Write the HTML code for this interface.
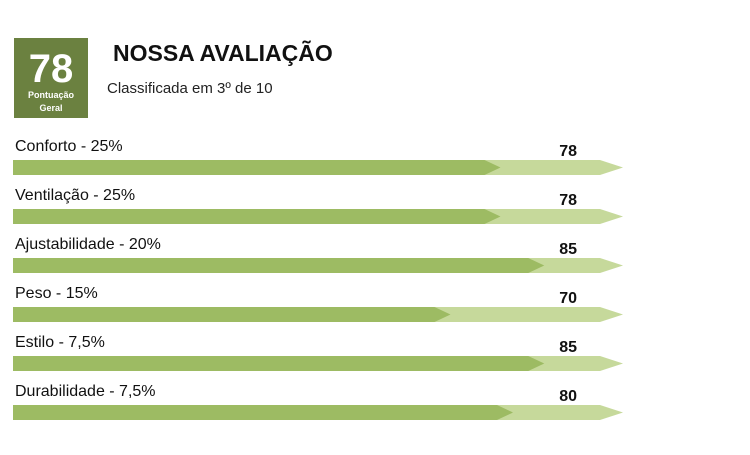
<!DOCTYPE html>
<html><head><meta charset="utf-8"><style>
body{margin:0;width:750px;height:450px;background:#fff;font-family:"Liberation Sans",sans-serif;overflow:hidden}
</style></head><body>
<svg width="750" height="450">
<rect x="14" y="38" width="74" height="80" fill="#6b8140"/>
<text x="51" y="82" text-anchor="middle" font-size="40" fill="#fff" font-weight="bold">78</text>
<text x="51" y="98" text-anchor="middle" font-size="9" fill="#fff" font-weight="bold">Pontuação</text>
<text x="51" y="111" text-anchor="middle" font-size="9" fill="#fff" font-weight="bold">Geral</text>
<text x="113" y="61" font-size="23" font-weight="bold" fill="#111">NOSSA AVALIAÇÃO</text>
<text x="107" y="93" font-size="15" fill="#222">Classificada em 3º de 10</text>
<g id="rows"></g>
</svg>
<script>
const categories=["Conforto - 25%","Ventilação - 25%","Ajustabilidade - 20%","Peso - 15%","Estilo - 7,5%","Durabilidade - 7,5%"];
const scores=[78,78,85,70,85,80];
const x0=13,k=6.25,fullEnd=600,tip=23,h=15;
const g=document.getElementById('rows');
const ns='http://www.w3.org/2000/svg';
function mk(t,a){const e=document.createElementNS(ns,t);for(const n in a)e.setAttribute(n,a[n]);g.appendChild(e);return e;}
categories.forEach((c,i)=>{
 const y=160+i*49;
 const l=mk('polygon',{points:`${x0},${y} ${fullEnd},${y} ${fullEnd+tip},${y+h/2} ${fullEnd},${y+h} ${x0},${y+h}`,fill:'#c6d99b'});
 
 
 const xe=x0+scores[i]*k;
 const d=mk('polygon',{points:`${x0},${y} ${xe-16},${y} ${xe},${y+h/2} ${xe-16},${y+h} ${x0},${y+h}`,fill:'#9dbb63'});
 
 
 const t=mk('text',{x:15,y:y-9,'font-size':16,fill:'#111'});t.textContent=c;
 
 
 const v=mk('text',{x:577,y:y-4,'font-size':16,'font-weight':'bold','text-anchor':'end',fill:'#111'});v.textContent=scores[i];
 
 
});
</script>
</body></html>
